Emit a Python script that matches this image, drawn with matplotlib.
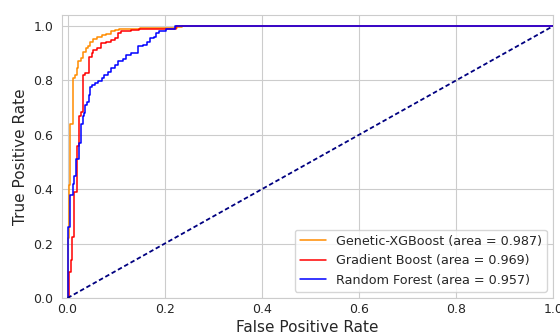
import numpy as np
import matplotlib
matplotlib.use('Agg')
import matplotlib.pyplot as plt
import seaborn as sns

# --- ROC curve points (step curves) ---
xgb_fpr = [0.0, 0.0, 0.003, 0.003, 0.006, 0.006, 0.011, 0.011, 0.015, 0.019, 0.022,
           0.027, 0.032, 0.038, 0.043, 0.047, 0.053, 0.060, 0.070, 0.080, 0.090,
           0.097, 0.107, 0.150, 0.225, 0.235, 1.0]
xgb_tpr = [0.0, 0.22, 0.22, 0.415, 0.415, 0.64, 0.64, 0.81, 0.82, 0.845, 0.87,
           0.884, 0.906, 0.918, 0.927, 0.94, 0.952, 0.96, 0.967, 0.97, 0.98,
           0.985, 0.99, 0.993, 0.995, 1.0, 1.0]

gb_fpr = [0.0, 0.003, 0.003, 0.007, 0.007, 0.010, 0.010, 0.013, 0.013, 0.019, 0.019,
          0.024, 0.024, 0.027, 0.031, 0.031, 0.036, 0.045, 0.050, 0.053, 0.060,
          0.068, 0.080, 0.090, 0.097, 0.104, 0.111, 0.131, 0.148, 0.215, 0.224, 1.0]
gb_tpr = [0.0, 0.01, 0.097, 0.097, 0.14, 0.14, 0.225, 0.225, 0.39, 0.39, 0.56,
          0.56, 0.67, 0.685, 0.71, 0.82, 0.826, 0.887, 0.90, 0.91, 0.918,
          0.936, 0.942, 0.948, 0.957, 0.973, 0.98, 0.985, 0.99, 0.99, 1.0, 1.0]

rf_fpr = [0.0, 0.0, 0.005, 0.005, 0.011, 0.011, 0.013, 0.013, 0.017, 0.017, 0.024,
          0.024, 0.028, 0.028, 0.031, 0.034, 0.037, 0.040, 0.045, 0.046, 0.050,
          0.056, 0.063, 0.070, 0.075, 0.083, 0.090, 0.097, 0.104, 0.114, 0.121,
          0.131, 0.145, 0.155, 0.163, 0.169, 0.179, 0.182, 0.189, 0.203, 0.216,
          0.222, 1.0]
rf_tpr = [0.0, 0.26, 0.34, 0.38, 0.39, 0.42, 0.42, 0.45, 0.45, 0.51, 0.51,
          0.57, 0.57, 0.64, 0.67, 0.68, 0.71, 0.72, 0.746, 0.777, 0.783,
          0.79, 0.796, 0.808, 0.82, 0.832, 0.845, 0.857, 0.87, 0.88, 0.893,
          0.90, 0.925, 0.93, 0.942, 0.955, 0.96, 0.973, 0.98, 0.99, 0.99,
          1.0, 1.0]

labels = ['Genetic-XGBoost (area = 0.987)',
          'Gradient Boost (area = 0.969)',
          'Random Forest (area = 0.957)']
ticks = [0.0, 0.2, 0.4, 0.6, 0.8, 1.0]

sns.set_style('whitegrid')
plt.rcParams['font.family'] = ['DejaVu Sans']

fig = plt.figure(figsize=(5.6, 3.36), dpi=100)
ax = fig.add_axes([0.111, 0.113, 0.877, 0.842])

ax.step(xgb_fpr, xgb_tpr, where='post', color='darkorange', lw=1.1, label=labels[0])
ax.step(gb_fpr, gb_tpr, where='post', color='red', lw=1.1, label=labels[1])
ax.step(rf_fpr, rf_tpr, where='post', color='blue', lw=1.1, label=labels[2])
ax.plot([0, 1], [0, 1], color='navy', lw=1.3, dashes=(2.5, 1.5))

ax.set_xlim(-0.011, 1.0)
ax.set_ylim(0.0, 1.04)
ax.set_xticks(ticks)
ax.set_yticks(ticks)
ax.tick_params(labelsize=9, colors='#262626', pad=3)
ax.tick_params(axis='x', pad=0)
ax.set_xlabel('False Positive Rate', fontsize=11)
ax.set_ylabel('True Positive Rate', fontsize=11)
ax.xaxis.set_label_coords(0.5, -0.078)
ax.legend(loc='lower right', fontsize=9.2, frameon=True)

plt.savefig('out.png')
plt.close()
